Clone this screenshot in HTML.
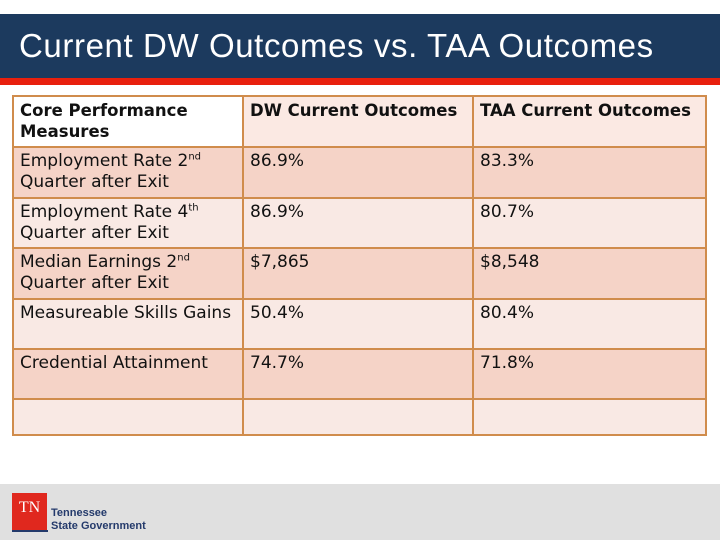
<!DOCTYPE html>
<html><head><meta charset="utf-8"><style>
body{margin:0;width:720px;height:540px;position:relative;background:#fff;font-family:"DejaVu Sans","Liberation Sans",sans-serif;overflow:hidden}
.title{position:absolute;left:0;top:14px;width:720px;height:64px;background:#1c3a5e;color:#fff;font-size:33px;line-height:64px;padding-left:19px;box-sizing:border-box;font-family:"Liberation Sans",sans-serif;letter-spacing:0.6px}
.stripe{position:absolute;left:0;top:78px;width:720px;height:7px;background:#e8200e}
table{position:absolute;left:12px;top:95px;border-collapse:collapse;width:693px;font-size:17px;color:#111;table-layout:fixed}
td{border:2px solid #d08c4c;vertical-align:top;padding:3px 6px 0 6px;line-height:21px;box-sizing:border-box}
.h td{font-weight:bold;background:#fbe9e3;height:51px;font-size:16.5px}
.h td:first-child{background:#fff}
.d td{background:#f5d3c7}
.l td{background:#f9e9e4}
sup{font-size:10px;line-height:0}
.foot{position:absolute;left:0;top:484px;width:720px;height:56px;background:#e0e0e0}
.logo{position:absolute;left:12px;top:493px;width:35px;height:37px;background:#e0281e;color:#fff;font-family:"Liberation Serif",serif;font-size:16px;text-align:center;line-height:30px}
.logo-line{position:absolute;left:12px;top:530px;width:36px;height:2px;background:#243a6b}
.logotext{position:absolute;left:51px;top:507px;color:#243a6b;font-weight:bold;font-size:11px;line-height:13px;font-family:"Liberation Sans",sans-serif}
</style></head><body>
<div class="title">Current DW Outcomes vs. TAA Outcomes</div>
<div class="stripe"></div>
<table>
<colgroup><col style="width:230px"><col style="width:230px"><col style="width:233px"></colgroup>
<tr class="h"><td>Core Performance Measures</td><td>DW Current Outcomes</td><td>TAA Current Outcomes</td></tr>
<tr class="d" style="height:51px"><td>Employment Rate 2<sup>nd</sup> Quarter after Exit</td><td>86.9%</td><td>83.3%</td></tr>
<tr class="l" style="height:50px"><td>Employment Rate 4<sup>th</sup> Quarter after Exit</td><td>86.9%</td><td>80.7%</td></tr>
<tr class="d" style="height:51px"><td>Median Earnings 2<sup>nd</sup> Quarter after Exit</td><td>$7,865</td><td>$8,548</td></tr>
<tr class="l" style="height:50px"><td>Measureable Skills Gains</td><td>50.4%</td><td>80.4%</td></tr>
<tr class="d" style="height:50px"><td>Credential Attainment</td><td>74.7%</td><td>71.8%</td></tr>
<tr class="l" style="height:36px"><td></td><td></td><td></td></tr>
</table>
<div class="foot"></div>
<div class="logo">TN</div>
<div class="logo-line"></div>
<div class="logotext">Tennessee<br>State Government</div>
</body></html>
